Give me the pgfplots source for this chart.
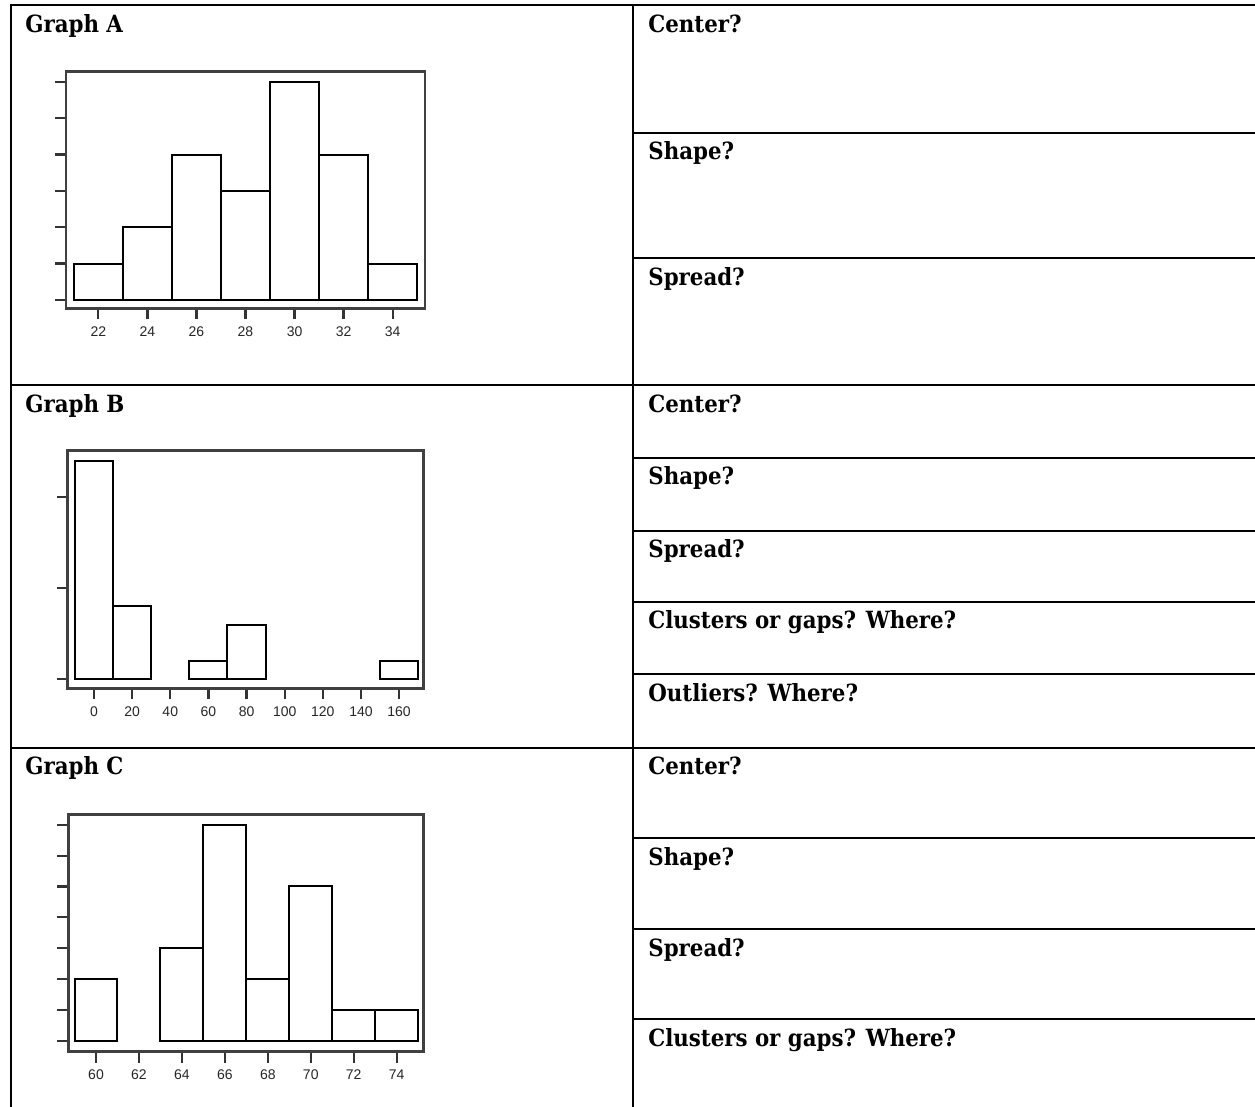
\documentclass[border=0pt]{standalone}
\usepackage{pgfplots}
\pgfplotsset{compat=1.18}
\usepackage{fontspec}
\newfontfamily\hdr{DejaVu Serif Condensed}
\newfontfamily\tickfont{Liberation Sans}
\begin{document}
\begin{tikzpicture}
\path[use as bounding box] (0pt,0pt) rectangle (627.5pt,-553.5pt);
\pgfplotsset{
  hist/.style={
    scale only axis,
    axis line style={black!75, line width=1.3pt},
    tick align=outside,
    tick pos=left,
    major tick length=5.5pt,
    major tick style={black!80, line width=1.1pt},
    yticklabels={},
    ticklabel style={font=\tickfont\fontsize{7}{8}\selectfont, text=black!85},
    /pgf/number format/assume math mode=true,
    ybar,
    anchor=south west,
  },
  barst/.style={draw=black, fill=white, line width=1pt},
}
\begin{scope}[x=0.5pt,y=-0.5pt]
  % table lines
  \draw[line width=1pt] (10,5) -- (1255,5);
  \draw[line width=1pt] (10.7,5) -- (10.7,1107);
  \draw[line width=1pt] (633,5) -- (633,1107);
  \draw[line width=1pt] (10.7,385.5) -- (1255,385.5);
  \draw[line width=1pt] (10.7,747.7) -- (1255,747.7);
  \foreach \yy in {132.7,258.3,457.7,530.7,601.7,674.3,838.3,929,1019.3}
    \draw[line width=1pt] (633,\yy) -- (1255,\yy);
  % texts
  \tikzset{hd/.style={anchor=base west, inner sep=0pt, font=\hdr\bfseries\fontsize{11.85}{14}\selectfont}}
  \node[hd] at (25,32.3) {Graph A};
  \node[hd] at (25,412.5) {Graph B};
  \node[hd] at (25,774.7) {Graph C};
  \node[hd] at (648,32.3) {Center?};
  \node[hd] at (648,159.7) {Shape?};
  \node[hd] at (648,285.3) {Spread?};
  \node[hd] at (648,412.5) {Center?};
  \node[hd] at (648,484.7) {Shape?};
  \node[hd] at (648,557.7) {Spread?};
  \node[hd] at (648,628.7) {Clusters or gaps? Where?};
  \node[hd] at (648,701.3) {Outliers? Where?};
  \node[hd] at (648,774.7) {Center?};
  \node[hd] at (648,865.3) {Shape?};
  \node[hd] at (648,956) {Spread?};
  \node[hd] at (648,1046.3) {Clusters or gaps? Where?};
  % axis anchors
  \coordinate (GA) at (66,308.3);
  \coordinate (GB) at (67.7,688.3);
  \coordinate (GC) at (68.3,1051.7);
\end{scope}

% Graph A
\begin{axis}[hist, at={(GA)}, width=179.5pt, height=118.3pt,
  xmin=20.68, xmax=35.32, ymin=-0.23, ymax=6.28,
  xtick={22,24,...,34}, ytick={0,1,...,6}, bar width=2]
  \addplot[barst] coordinates {(22,1) (24,2) (26,4) (28,3) (30,6) (32,4) (34,1)};
\end{axis}

% Graph B
\begin{axis}[hist, at={(GB)}, width=177.8pt, height=118.8pt,
  xmin=-13.8, xmax=172.7, ymin=-0.51, ymax=12.57,
  xtick={0,20,...,160}, ytick={0,5,10}, bar width=20]
  \addplot[barst] coordinates {(0,12) (20,4) (60,1) (80,3) (160,1)};
\end{axis}

% Graph C
\begin{axis}[hist, at={(GC)}, width=177.5pt, height=118.7pt,
  xmin=58.71, xmax=75.24, ymin=-0.36, ymax=7.34,
  xtick={60,62,...,74}, ytick={0,1,...,7}, bar width=2]
  \addplot[barst] coordinates {(60,2) (64,3) (66,7) (68,2) (70,5) (72,1) (74,1)};
\end{axis}
\end{tikzpicture}
\end{document}
